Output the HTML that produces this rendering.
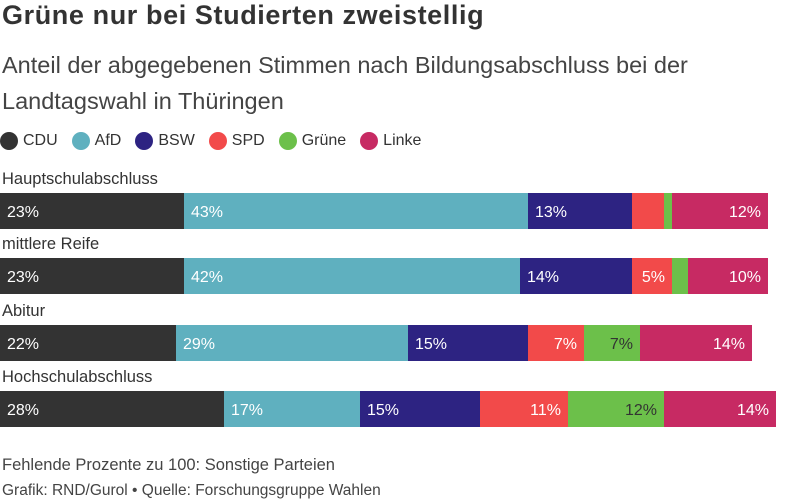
<!DOCTYPE html>
<html><head><meta charset="utf-8"><style>
body{margin:0;width:800px;height:501px;background:#fff;font-family:"Liberation Sans",sans-serif;color:#333;overflow:hidden;position:relative}
.t{position:absolute;left:2px;white-space:nowrap}
</style></head><body>
<div class="t" style="top:0px;font-size:27px;font-weight:bold;color:#333;letter-spacing:0.6px">Grüne nur bei Studierten zweistellig</div>
<div class="t" style="top:47px;font-size:23.5px;line-height:36px;color:#444">Anteil der abgegebenen Stimmen nach Bildungsabschluss bei der<br>Landtagswahl in Thüringen</div>
<div id="legend" style="position:absolute;left:0;top:130px;height:22px;display:flex;font-size:16px;align-items:center"></div>
<svg id="chart" width="800" height="440" style="position:absolute;left:0;top:0"></svg>
<div class="t" style="top:456px;font-size:16.5px;color:#444">Fehlende Prozente zu 100: Sonstige Parteien</div>
<div class="t" style="top:482px;font-size:15.5px;color:#444">Grafik: RND/Gurol • Quelle: Forschungsgruppe Wahlen</div>
<script>
const categories=["Hauptschulabschluss","mittlere Reife","Abitur","Hochschulabschluss"];
const parties=["CDU","AfD","BSW","SPD","Grüne","Linke"];
const colors=["#333333","#5fb0bf","#2d2382","#f24a4a","#6cc04a","#c72a63"];
const cdu=[23,23,22,28];
const afd=[43,42,29,17];
const bsw=[13,14,15,15];
const spd=[4,5,7,11];
const gruene=[1,2,7,12];
const linke=[12,10,14,14];
const series=[cdu,afd,bsw,spd,gruene,linke];
const pxPer=8, rowTop=[193,258,325,391], barH=36;
const x=v=>v*pxPer;
const NS="http://www.w3.org/2000/svg";
const svg=document.getElementById('chart');
const lg=document.getElementById('legend');
parties.forEach((p,i)=>{
 const e=document.createElement('span');
 
 
 e.style.cssText='display:flex;align-items:center;margin-right:14px;color:#333';
 e.innerHTML='<span style="width:18px;height:18px;border-radius:50%;background:'+colors[i]+';margin-right:5px;display:inline-block"></span>'+p;
 lg.appendChild(e);
});
categories.forEach((c,r)=>{
 const y=rowTop[r];
 const lab=document.createElementNS(NS,'text');
 
 
 lab.setAttribute('x',2);lab.setAttribute('y',y-9);
 lab.setAttribute('font-size','16.5');lab.setAttribute('fill','#333');
 lab.textContent=c;svg.appendChild(lab);
 let cum=0;
 series.forEach((s,i)=>{
  const v=s[r];
  const rect=document.createElementNS(NS,'rect');
  
  
  rect.setAttribute('x',x(cum));rect.setAttribute('y',y);
  rect.setAttribute('width',x(v));rect.setAttribute('height',barH);
  rect.setAttribute('fill',colors[i]);svg.appendChild(rect);
  if(v>=5){
   const t=document.createElementNS(NS,'text');
   
   
   const left=i<3;
   t.setAttribute('x',left?x(cum)+7:x(cum+v)-7);
   t.setAttribute('text-anchor',left?'start':'end');
   t.setAttribute('y',y+24);t.setAttribute('font-size','16');
   t.setAttribute('fill',i==4?'#333':'#fff');
   t.textContent=v+'%';svg.appendChild(t);
  }
  cum+=v;
 });
});
</script>
</body></html>
